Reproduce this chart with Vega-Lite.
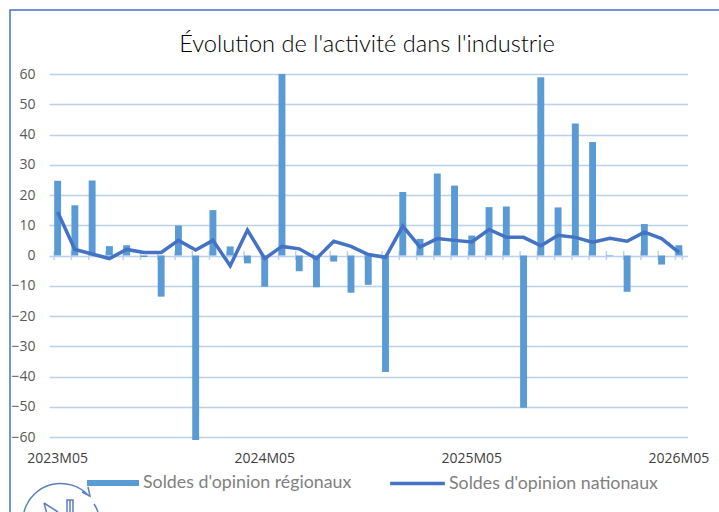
{
"$schema":"https://vega.github.io/schema/vega-lite/v6.json",
"width":716,"height":530,
"autosize":{"type":"none"},
"padding":{"left":10,"top":10,"right":0,"bottom":0},
"background":"white",
"view":{"stroke":"#4472C4","strokeWidth":1.5,"fill":"white"},
"title":{"text":"Évolution de l'activité dans l'industrie","font":"Lato","fontSize":23.6,"fontWeight":300,"color":"#000000","anchor":"middle","offset":-47,"frame":"group","dx":-1},
"data":{"values":[
{"m":"2023M05","r":24.7,"n":14.4},{"m":"2023M06","r":16.6,"n":2},{"m":"2023M07","r":24.8,"n":0.5},{"m":"2023M08","r":3.1,"n":-1},{"m":"2023M09","r":3.4,"n":2},{"m":"2023M10","r":-0.5,"n":1},{"m":"2023M11","r":-13.6,"n":1},{"m":"2023M12","r":9.9,"n":5},{"m":"2024M01","r":-61,"n":1.8},{"m":"2024M02","r":15,"n":5},{"m":"2024M03","r":3,"n":-3.4},{"m":"2024M04","r":-2.6,"n":8.4},{"m":"2024M05","r":-10.3,"n":-1},{"m":"2024M06","r":60,"n":3},{"m":"2024M07","r":-5.2,"n":2.2},{"m":"2024M08","r":-10.5,"n":-1},{"m":"2024M09","r":-2,"n":4.7},{"m":"2024M10","r":-12.3,"n":3},{"m":"2024M11","r":-9.7,"n":0.3},{"m":"2024M12","r":-38.5,"n":-0.6},{"m":"2025M01","r":21,"n":9.7},{"m":"2025M02","r":5.5,"n":2.8},{"m":"2025M03","r":27.1,"n":5.6},{"m":"2025M04","r":23.1,"n":5},{"m":"2025M05","r":6.6,"n":4.5},{"m":"2025M06","r":16,"n":8.6},{"m":"2025M07","r":16.2,"n":6},{"m":"2025M08","r":-50.3,"n":6},{"m":"2025M09","r":58.9,"n":3.2},{"m":"2025M10","r":15.9,"n":6.7},{"m":"2025M11","r":43.6,"n":6},{"m":"2025M12","r":37.5,"n":4.4},{"m":"2026M01","r":-0.2,"n":5.7},{"m":"2026M02","r":-12,"n":4.7},{"m":"2026M03","r":10.4,"n":7.7},{"m":"2026M04","r":-3,"n":5.6},{"m":"2026M05","r":3.4,"n":1}
]},
"encoding":{
"x":{"field":"m","type":"nominal","sort":null,"title":null,
"scale":{"range":[39,677.5],"paddingInner":0.6,"paddingOuter":0.3},
"axis":{"values":["2023M05","2024M05","2025M05","2026M05"],"orient":"bottom","labelAngle":0,"domain":false,"ticks":false,"grid":false,"labelFont":"Open Sans","labelFontSize":14,"labelColor":"#404040","labelOverlap":false,"labelPadding":-89,"labelFlush":false}}
},
"layer":[
{"mark":{"type":"rule","strokeWidth":1.5,"color":"#BDD0EC"},
 "encoding":{"x":{"field":"m","type":"nominal","sort":null,"bandPosition":0},"y":{"datum":-1.5},"y2":{"datum":1.5}}},
{"transform":[{"filter":"datum.m==='2026M05'"}],"mark":{"type":"rule","strokeWidth":1.5,"color":"#BDD0EC"},
 "encoding":{"x":{"field":"m","type":"nominal","sort":null,"bandPosition":1},"y":{"datum":-1.5},"y2":{"datum":1.5}}},
{"mark":{"type":"bar","clip":false},
 "encoding":{
  "y":{"field":"r","type":"quantitative","title":null,
   "scale":{"domain":[-60,60],"range":[427,64],"nice":false,"zero":false},
   "axis":{"values":[-60,-50,-40,-30,-20,-10,0,10,20,30,40,50,60],"grid":true,"gridColor":"#BDD0EC","gridWidth":1.5,"domain":false,"ticks":false,"labelFont":"Open Sans","labelFontSize":14,"labelColor":"#595959","orient":"left","offset":-25,"labelPadding":0,"zindex":0}},
  "fill":{"datum":"Soldes d'opinion régionaux","scale":{"domain":["Soldes d'opinion régionaux"],"range":["#5B9BD5"]},
   "legend":{"title":null,"orient":"none","legendX":77,"legendY":447,"symbolType":"M-1,-0.115H1V0.115H-1Z","symbolSize":2704,"symbolStrokeWidth":0,"labelFont":"Lato","labelFontSize":17.8,"labelColor":"#7F7F7F","labelOffset":4,"labelLimit":400}}
 }},
{"mark":{"type":"line","strokeWidth":3.5,"strokeJoin":"miter","clip":false},
 "encoding":{
  "y":{"field":"n","type":"quantitative"},
  "stroke":{"datum":"Soldes d'opinion nationaux","scale":{"domain":["Soldes d'opinion nationaux"],"range":["#4472C4"]},
   "legend":{"title":null,"orient":"none","legendX":378,"legendY":444,"symbolType":"stroke","symbolSize":3000,"symbolStrokeWidth":3.5,"labelFont":"Lato","labelFontSize":17.8,"labelColor":"#7F7F7F","labelOffset":2,"labelLimit":400}}
 }},
{"transform":[{"filter":"datum.m==='2023M05'"}],"mark":{"type":"point","opacity":0},
 "encoding":{
  "y":{"field":"n","type":"quantitative"},
  "shape":{"datum":"Logo","scale":{"domain":["Logo"],"range":["M-37,-10A38,38 0 0 1 28,-26M21,-30L29,-26L27,-35M33,-18A38,38 0 0 1 37,-10M-17,-19L-3,-10M-17,-19L-14,-8M6,-10V-22H9V-10M9,-22H12V-10"]},
   "legend":{"title":null,"orient":"none","legendX":46,"legendY":507,"symbolSize":4,"symbolOpacity":1,"symbolFillColor":"transparent","symbolStrokeColor":"#5B7FBF","symbolStrokeWidth":1.5,"labelExpr":"''"}}
 }}
]
}
